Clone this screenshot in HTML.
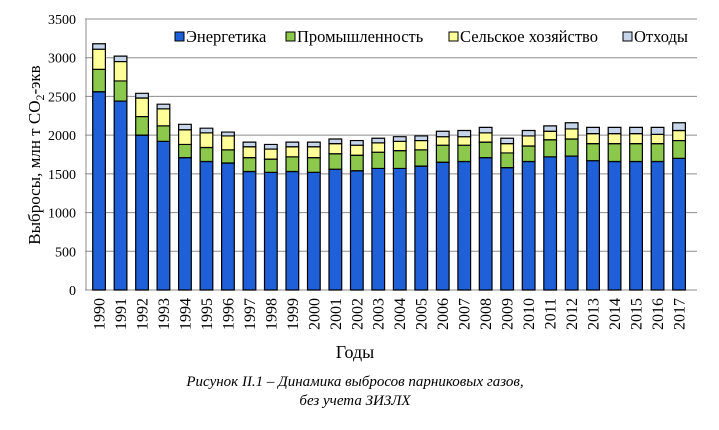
<!DOCTYPE html>
<html><head><meta charset="utf-8"><style>
html,body{margin:0;padding:0;background:#fff;width:719px;height:430px;overflow:hidden}
svg{display:block;font-family:"Liberation Serif",serif}
.b rect{stroke:#000;stroke-width:1.2;vector-effect:non-scaling-stroke}
</style></head><body>
<svg width="719" height="430" viewBox="0 0 719 430" xmlns="http://www.w3.org/2000/svg">
<g stroke="#8c8c8c" stroke-width="1">
<line x1="85" y1="19" x2="697" y2="19"/>
<line x1="85" y1="57.7" x2="697" y2="57.7"/>
<line x1="85" y1="96.4" x2="697" y2="96.4"/>
<line x1="85" y1="135.1" x2="697" y2="135.1"/>
<line x1="85" y1="173.9" x2="697" y2="173.9"/>
<line x1="85" y1="212.6" x2="697" y2="212.6"/>
<line x1="85" y1="251.3" x2="697" y2="251.3"/>
<line x1="85" y1="290" x2="697" y2="290"/>
<line x1="86" y1="19" x2="86" y2="290"/>
</g>
<g font-size="14" text-anchor="end" fill="#000">
<text x="76" y="24">3500</text><text x="76" y="62.7">3000</text><text x="76" y="101.4">2500</text>
<text x="76" y="140.1">2000</text><text x="76" y="178.9">1500</text><text x="76" y="217.6">1000</text>
<text x="76" y="256.3">500</text><text x="76" y="295">0</text>
</g>
<text transform="translate(40,155) rotate(-90)" font-size="17" text-anchor="middle">Выбросы, млн т CO<tspan font-size="12" dy="4">2</tspan><tspan dy="-4">-экв</tspan></text>
<g class="b" transform="translate(0,290) scale(1,-0.07743)">
<g fill="#1f5fd8">
<rect x="92.7" y="0" width="12.7" height="2560"/><rect x="114.2" y="0" width="12.7" height="2440"/><rect x="135.7" y="0" width="12.7" height="2000"/><rect x="157.1" y="0" width="12.7" height="1920"/><rect x="178.6" y="0" width="12.7" height="1710"/><rect x="200.1" y="0" width="12.7" height="1660"/><rect x="221.6" y="0" width="12.7" height="1640"/><rect x="243.1" y="0" width="12.7" height="1530"/><rect x="264.5" y="0" width="12.7" height="1520"/><rect x="286.0" y="0" width="12.7" height="1530"/><rect x="307.5" y="0" width="12.7" height="1520"/><rect x="329.0" y="0" width="12.7" height="1560"/><rect x="350.5" y="0" width="12.7" height="1540"/><rect x="371.9" y="0" width="12.7" height="1570"/><rect x="393.4" y="0" width="12.7" height="1570"/><rect x="414.9" y="0" width="12.7" height="1600"/><rect x="436.4" y="0" width="12.7" height="1650"/><rect x="457.9" y="0" width="12.7" height="1660"/><rect x="479.3" y="0" width="12.7" height="1710"/><rect x="500.8" y="0" width="12.7" height="1580"/><rect x="522.3" y="0" width="12.7" height="1660"/><rect x="543.8" y="0" width="12.7" height="1720"/><rect x="565.3" y="0" width="12.7" height="1730"/><rect x="586.7" y="0" width="12.7" height="1670"/><rect x="608.2" y="0" width="12.7" height="1660"/><rect x="629.7" y="0" width="12.7" height="1660"/><rect x="651.2" y="0" width="12.7" height="1660"/><rect x="672.7" y="0" width="12.7" height="1700"/>
</g>
<g fill="#8cc84b">
<rect x="92.7" y="2560" width="12.7" height="290"/><rect x="114.2" y="2440" width="12.7" height="260"/><rect x="135.7" y="2000" width="12.7" height="240"/><rect x="157.1" y="1920" width="12.7" height="200"/><rect x="178.6" y="1710" width="12.7" height="170"/><rect x="200.1" y="1660" width="12.7" height="180"/><rect x="221.6" y="1640" width="12.7" height="170"/><rect x="243.1" y="1530" width="12.7" height="180"/><rect x="264.5" y="1520" width="12.7" height="170"/><rect x="286.0" y="1530" width="12.7" height="190"/><rect x="307.5" y="1520" width="12.7" height="190"/><rect x="329.0" y="1560" width="12.7" height="200"/><rect x="350.5" y="1540" width="12.7" height="200"/><rect x="371.9" y="1570" width="12.7" height="210"/><rect x="393.4" y="1570" width="12.7" height="230"/><rect x="414.9" y="1600" width="12.7" height="210"/><rect x="436.4" y="1650" width="12.7" height="220"/><rect x="457.9" y="1660" width="12.7" height="210"/><rect x="479.3" y="1710" width="12.7" height="200"/><rect x="500.8" y="1580" width="12.7" height="190"/><rect x="522.3" y="1660" width="12.7" height="200"/><rect x="543.8" y="1720" width="12.7" height="220"/><rect x="565.3" y="1730" width="12.7" height="220"/><rect x="586.7" y="1670" width="12.7" height="220"/><rect x="608.2" y="1660" width="12.7" height="230"/><rect x="629.7" y="1660" width="12.7" height="230"/><rect x="651.2" y="1660" width="12.7" height="230"/><rect x="672.7" y="1700" width="12.7" height="230"/>
</g>
<g fill="#ffff99">
<rect x="92.7" y="2850" width="12.7" height="260"/><rect x="114.2" y="2700" width="12.7" height="250"/><rect x="135.7" y="2240" width="12.7" height="240"/><rect x="157.1" y="2120" width="12.7" height="220"/><rect x="178.6" y="1880" width="12.7" height="190"/><rect x="200.1" y="1840" width="12.7" height="190"/><rect x="221.6" y="1810" width="12.7" height="180"/><rect x="243.1" y="1710" width="12.7" height="140"/><rect x="264.5" y="1690" width="12.7" height="130"/><rect x="286.0" y="1720" width="12.7" height="130"/><rect x="307.5" y="1710" width="12.7" height="140"/><rect x="329.0" y="1760" width="12.7" height="130"/><rect x="350.5" y="1740" width="12.7" height="130"/><rect x="371.9" y="1780" width="12.7" height="120"/><rect x="393.4" y="1800" width="12.7" height="120"/><rect x="414.9" y="1810" width="12.7" height="120"/><rect x="436.4" y="1870" width="12.7" height="110"/><rect x="457.9" y="1870" width="12.7" height="110"/><rect x="479.3" y="1910" width="12.7" height="120"/><rect x="500.8" y="1770" width="12.7" height="120"/><rect x="522.3" y="1860" width="12.7" height="130"/><rect x="543.8" y="1940" width="12.7" height="110"/><rect x="565.3" y="1950" width="12.7" height="130"/><rect x="586.7" y="1890" width="12.7" height="130"/><rect x="608.2" y="1890" width="12.7" height="130"/><rect x="629.7" y="1890" width="12.7" height="130"/><rect x="651.2" y="1890" width="12.7" height="120"/><rect x="672.7" y="1930" width="12.7" height="130"/>
</g>
<g fill="#c6d5ea">
<rect x="92.7" y="3110" width="12.7" height="70"/><rect x="114.2" y="2950" width="12.7" height="70"/><rect x="135.7" y="2480" width="12.7" height="60"/><rect x="157.1" y="2340" width="12.7" height="60"/><rect x="178.6" y="2070" width="12.7" height="70"/><rect x="200.1" y="2030" width="12.7" height="60"/><rect x="221.6" y="1990" width="12.7" height="50"/><rect x="243.1" y="1850" width="12.7" height="60"/><rect x="264.5" y="1820" width="12.7" height="60"/><rect x="286.0" y="1850" width="12.7" height="60"/><rect x="307.5" y="1850" width="12.7" height="60"/><rect x="329.0" y="1890" width="12.7" height="60"/><rect x="350.5" y="1870" width="12.7" height="60"/><rect x="371.9" y="1900" width="12.7" height="60"/><rect x="393.4" y="1920" width="12.7" height="60"/><rect x="414.9" y="1930" width="12.7" height="60"/><rect x="436.4" y="1980" width="12.7" height="70"/><rect x="457.9" y="1980" width="12.7" height="80"/><rect x="479.3" y="2030" width="12.7" height="70"/><rect x="500.8" y="1890" width="12.7" height="70"/><rect x="522.3" y="1990" width="12.7" height="70"/><rect x="543.8" y="2050" width="12.7" height="70"/><rect x="565.3" y="2080" width="12.7" height="80"/><rect x="586.7" y="2020" width="12.7" height="80"/><rect x="608.2" y="2020" width="12.7" height="80"/><rect x="629.7" y="2020" width="12.7" height="80"/><rect x="651.2" y="2010" width="12.7" height="90"/><rect x="672.7" y="2060" width="12.7" height="100"/>
</g>
</g>
<g font-size="16" text-anchor="end">
<text transform="translate(104.5,298) rotate(-90)">1990</text><text transform="translate(126,298) rotate(-90)">1991</text><text transform="translate(147.5,298) rotate(-90)">1992</text><text transform="translate(168.9,298) rotate(-90)">1993</text><text transform="translate(190.4,298) rotate(-90)">1994</text><text transform="translate(211.9,298) rotate(-90)">1995</text><text transform="translate(233.4,298) rotate(-90)">1996</text><text transform="translate(254.9,298) rotate(-90)">1997</text><text transform="translate(276.3,298) rotate(-90)">1998</text><text transform="translate(297.8,298) rotate(-90)">1999</text><text transform="translate(319.3,298) rotate(-90)">2000</text><text transform="translate(340.8,298) rotate(-90)">2001</text><text transform="translate(362.3,298) rotate(-90)">2002</text><text transform="translate(383.7,298) rotate(-90)">2003</text><text transform="translate(405.2,298) rotate(-90)">2004</text><text transform="translate(426.7,298) rotate(-90)">2005</text><text transform="translate(448.2,298) rotate(-90)">2006</text><text transform="translate(469.7,298) rotate(-90)">2007</text><text transform="translate(491.1,298) rotate(-90)">2008</text><text transform="translate(512.6,298) rotate(-90)">2009</text><text transform="translate(534.1,298) rotate(-90)">2010</text><text transform="translate(555.6,298) rotate(-90)">2011</text><text transform="translate(577.1,298) rotate(-90)">2012</text><text transform="translate(598.5,298) rotate(-90)">2013</text><text transform="translate(620,298) rotate(-90)">2014</text><text transform="translate(641.5,298) rotate(-90)">2015</text><text transform="translate(663,298) rotate(-90)">2016</text><text transform="translate(684.5,298) rotate(-90)">2017</text>
</g>
<text x="355" y="358" font-size="18" text-anchor="middle">Годы</text>
<g font-size="15" font-style="italic" text-anchor="middle">
<text x="355" y="386">Рисунок II.1 – Динамика выбросов парниковых газов,</text>
<text x="355" y="405">без учета ЗИЗЛХ</text>
</g>
<g font-size="16.5">
<rect x="175" y="32" width="9" height="9" fill="#1f5fd8" stroke="#000"/><text x="186" y="42">Энергетика</text>
<rect x="286" y="32" width="9" height="9" fill="#8cc84b" stroke="#000"/><text x="297" y="42">Промышленность</text>
<rect x="449" y="32" width="9" height="9" fill="#ffff99" stroke="#000"/><text x="460" y="42">Сельское хозяйство</text>
<rect x="623" y="32" width="9" height="9" fill="#c6d5ea" stroke="#000"/><text x="634" y="42">Отходы</text>
</g>
</svg>
</body></html>
